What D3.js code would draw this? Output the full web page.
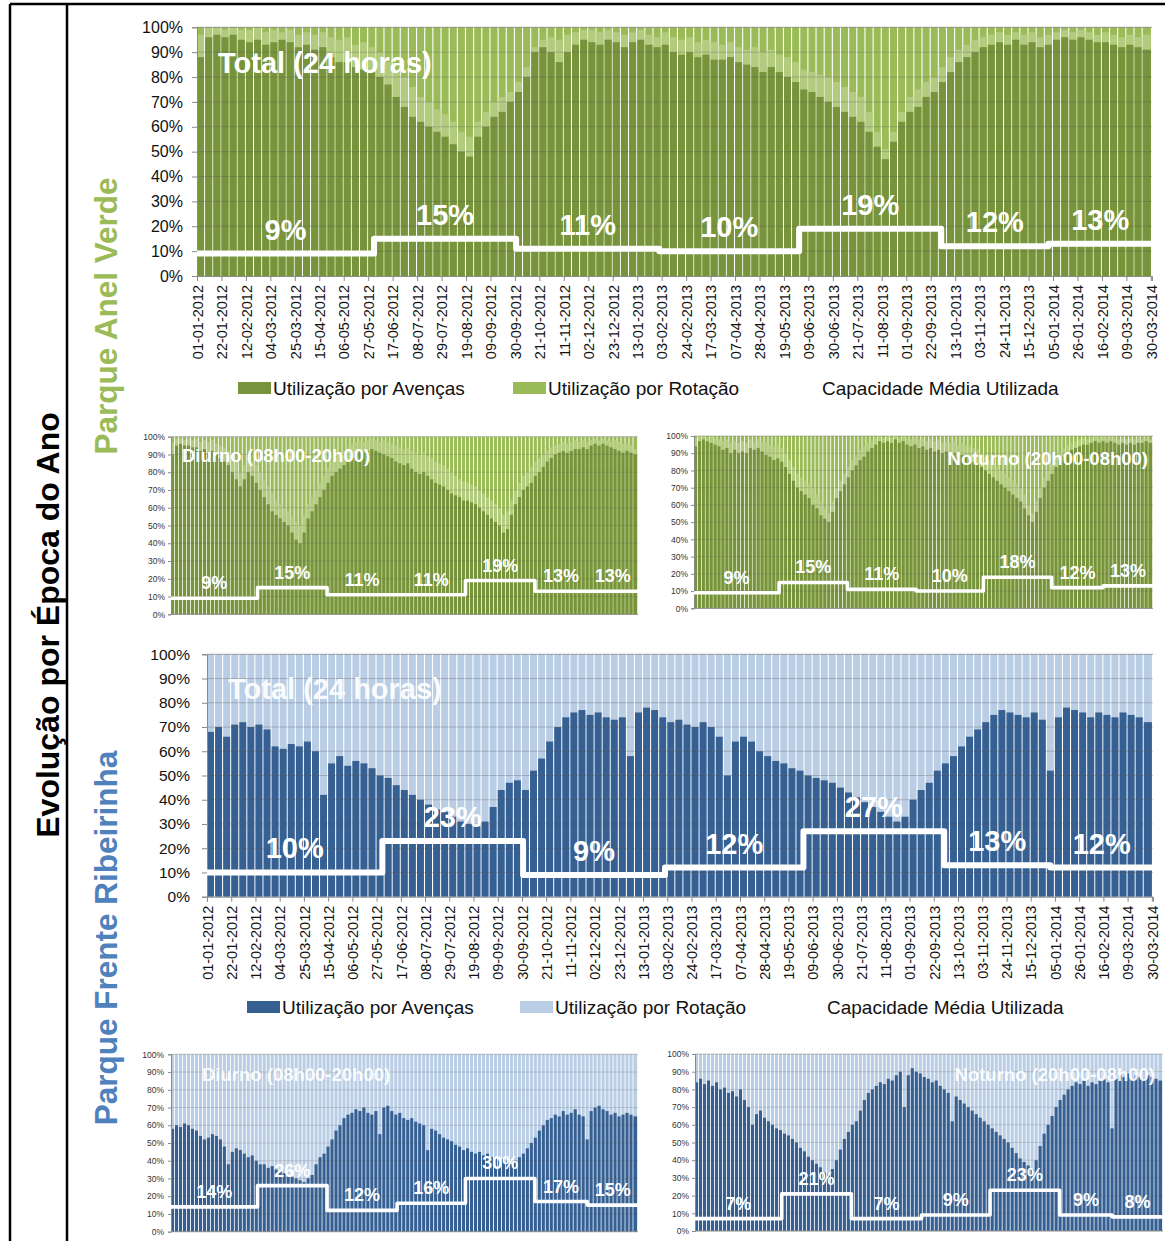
<!DOCTYPE html>
<html><head><meta charset="utf-8">
<script src="https://cdn.jsdelivr.net/npm/d3@7"></script>
<style>
body{margin:0;background:#fff}
svg{display:block}
text{font-family:"Liberation Sans",Arial,Helvetica,sans-serif}
</style>
</head><body>
<svg id="c" width="1165" height="1241"></svg>
<script>
// ---------- DATA ----------
const tickLabels = ["01-01-2012","22-01-2012","12-02-2012","04-03-2012","25-03-2012","15-04-2012","06-05-2012","27-05-2012","17-06-2012","08-07-2012","29-07-2012","19-08-2012","09-09-2012","30-09-2012","21-10-2012","11-11-2012","02-12-2012","23-12-2012","13-01-2013","03-02-2013","24-02-2013","17-03-2013","07-04-2013","28-04-2013","19-05-2013","09-06-2013","30-06-2013","21-07-2013","11-08-2013","01-09-2013","22-09-2013","13-10-2013","03-11-2013","24-11-2013","15-12-2013","05-01-2014","26-01-2014","16-02-2014","09-03-2014","30-03-2014"];
const periodBounds = ["01-01-2012","01-06-2012","01-10-2012","01-02-2013","01-06-2013","01-10-2013","01-01-2014","31-03-2014"];
const yTicks = [0,10,20,30,40,50,60,70,80,90,100];

// Parque Anel Verde - weekly values, %: lower edge of the rotação band and avenças
const verdeTotalOcup = [97,100,100,99,100,99,99,100,98,99, 98,99,97,98,97,98,96,95,96,93, 94,92,90,86,82,80,76,72,70,67, 65,62,58,56,62,66,70,72,74,78, 84,92,95,96,95,97,98,99,99,98, 99,98,97,98,99,97,96,98,96,95, 96,94,95,94,93,94,92,91,92,90, 91,89,88,86,83,82,81,80,78,76, 74,72,66,58,51,58,66,72,75,78, 80,84,88,91,93,95,96,97,98,97, 98,97,98,96,97,98,99,98,99,98, 97,98,97,96,97,96,97];
const verdeTotalAv   = [88,96,97,96,97,95,94,95,93,94, 95,94,92,93,91,92,88,86,86,84, 83,82,80,77,72,68,64,62,60,58, 56,53,50,48,56,60,64,66,70,74, 80,90,92,90,86,90,93,95,94,93, 95,94,92,94,95,93,92,93,90,89, 90,88,89,87,87,88,86,85,84,82, 84,82,80,78,75,74,72,70,68,66, 64,62,58,52,47,54,62,66,68,72, 74,78,82,86,88,90,92,93,94,93, 95,93,94,92,93,95,96,95,96,95, 94,94,93,92,93,92,91];
const verdeDiurnoOcup = [97,99,99,98,99,98,99,97,98,97, 98,96,95,94,92,90,86,80,84,88, 86,84,80,76,72,68,64,62,60,58, 55,52,50,56,62,66,70,74,78,82, 86,88,90,92,94,96,97,98,97,98, 99,98,97,98,97,96,95,94,93,94, 92,91,90,91,89,88,86,85,84,82, 80,78,76,75,74,73,72,70,68,66, 64,62,60,56,58,64,70,74,78,80, 83,86,88,90,92,94,95,96,97,96, 97,98,97,98,97,98,99,98,99,98, 97,98,97,96,96,95,93];
const verdeDiurnoAv   = [90,95,96,95,95,94,94,92,93,91, 92,90,88,86,84,80,76,72,76,80, 78,74,70,66,62,58,56,54,52,50, 46,42,40,46,54,58,62,66,70,74, 78,80,82,84,86,88,90,92,91,92, 93,92,91,90,89,88,86,85,84,85, 82,80,79,80,78,76,74,73,72,70, 68,67,66,64,64,63,62,60,58,56, 54,52,50,46,48,56,62,66,70,72, 74,78,80,83,86,88,90,91,92,91, 92,93,93,94,93,95,96,95,96,95, 94,93,92,91,92,91,90];
const verdeNoturnoOcup = [99,100,100,99,100,99,98,97,98,96, 97,96,97,96,98,97,98,97,96,95, 94,95,93,90,86,82,78,76,74,72, 70,66,62,58,55,62,70,74,78,82, 86,88,92,94,96,97,99,100,99,100, 99,100,99,100,99,98,99,98,99,97, 98,97,98,96,97,96,97,95,96,95, 94,93,92,90,88,86,84,82,80,78, 76,74,72,70,66,60,55,62,70,76, 80,84,88,91,93,95,96,97,98,99, 98,99,100,99,100,99,100,99,98,99, 98,99,98,99,98,99,98];
const verdeNoturnoAv   = [94,97,98,97,96,95,94,92,93,90, 92,90,91,90,93,92,93,91,89,88, 86,87,85,82,78,74,70,68,66,64, 60,58,54,52,50,56,64,68,72,76, 80,83,86,88,91,93,95,97,96,97, 96,98,96,97,95,94,95,93,94,92, 93,91,92,90,91,89,90,88,89,88, 86,85,84,82,80,78,76,74,72,70, 68,66,64,62,58,54,50,56,64,70, 74,78,82,86,88,90,92,93,94,95, 95,96,97,96,97,96,97,96,95,96, 95,96,95,96,96,97,96];

// Parque Frente Ribeirinha - weekly avenças, %
const azulTotalAv   = [68,70,66,71,72,70,71,69,62,61, 63,62,64,60,42,55,58,54,56,55, 53,50,49,46,44,42,40,38,36,35, 33,31,30,29,31,37,44,47,48,44, 52,57,64,70,74,76,77,75,76,74, 73,74,58,76,78,77,74,72,73,71, 70,72,70,66,50,64,66,64,60,58, 56,55,53,52,50,49,48,47,45,43, 41,39,37,35,33,31,33,40,44,47, 52,55,58,62,66,69,72,75,77,76, 75,74,76,73,52,74,78,77,76,74, 76,75,74,76,75,74,72];
const azulDiurnoAv  = [58,60,59,61,60,58,57,54,52,53, 55,54,52,48,38,45,47,46,44,42, 43,40,38,38,36,37,35,34,33,32, 31,30,29,28,30,32,38,42,44,48, 52,57,60,64,66,67,69,68,70,67, 66,68,55,70,71,68,66,67,64,63, 64,62,61,60,46,58,57,55,53,52, 51,49,48,46,47,45,44,45,43,44, 42,41,40,41,40,38,40,42,44,47, 50,53,57,60,63,64,66,65,68,66, 67,69,66,65,52,68,70,71,69,68, 66,67,65,66,67,66,65];
const azulNoturnoAv = [84,86,83,85,82,84,80,81,78,79, 76,80,74,70,60,66,68,64,62,60, 58,57,55,54,52,50,47,45,42,40, 38,36,33,32,35,40,46,52,56,60, 62,68,74,78,80,82,84,83,86,85, 88,90,70,88,92,90,89,87,86,84, 85,82,80,78,62,76,74,72,70,68, 66,64,62,60,58,56,54,52,50,47, 44,41,39,37,35,40,48,55,60,65, 70,74,77,80,82,84,83,85,82,84, 83,85,86,84,58,86,88,87,89,86, 88,87,86,88,87,86,85];

// Capacidade Média Utilizada per period (%)
const verdeTotalMedia   = [9,15,11,10,19,12,13];
const verdeDiurnoMedia  = [9,15,11,11,19,13,13];
const verdeNoturnoMedia = [9,15,11,10,18,12,13];
const azulTotalMedia    = [10,23,9,12,27,13,12];
const azulDiurnoMedia   = [14,26,12,16,30,17,15];
const azulNoturnoMedia  = [7,21,7,9,23,9,8];

const legendLabels = ["Utilização por Avenças","Utilização por Rotação","Capacidade Média Utilizada"];

// ---------- DRAW ----------
const svg = d3.select("#c");
const parse = d3.utcParse("%d-%m-%Y");
const tStart = parse(periodBounds[0]);
const tEnd = parse(periodBounds[periodBounds.length-1]);

const GREEN_D="#77933C", GREEN_L="#9BBB59", GREEN_P="#B3CB7E", BLUE_D="#376092", BLUE_L="#B9CDE5";

const charts = [
 {x0:197,x1:1152,yTop:27.3,yBot:276,mid:verdeTotalOcup,av:verdeTotalAv,media:verdeTotalMedia,dark:GREEN_D,light:GREEN_L,pale:GREEN_P,big:true,
  title:"Total (24 horas)",tx:218,ty:73,anchor:"start",pad:9,yfs:16,xlab:true},
 {x0:171,x1:638,yTop:436.7,yBot:614.3,mid:verdeDiurnoOcup,av:verdeDiurnoAv,media:verdeDiurnoMedia,dark:GREEN_D,light:GREEN_L,pale:GREEN_P,big:false,
  title:"Diurno (08h00-20h00)",tx:182,ty:462,anchor:"start",pad:3,yfs:8.5},
 {x0:694,x1:1153,yTop:436,yBot:608.3,mid:verdeNoturnoOcup,av:verdeNoturnoAv,media:verdeNoturnoMedia,dark:GREEN_D,light:GREEN_L,pale:GREEN_P,big:false,
  title:"Noturno (20h00-08h00)",tx:1148,ty:465,anchor:"end",pad:3,yfs:8.5},
 {x0:207,x1:1153,yTop:654.3,yBot:896.7,mid:null,av:azulTotalAv,media:azulTotalMedia,dark:BLUE_D,light:BLUE_L,big:true,
  title:"Total (24 horas)",tx:228,ty:699,anchor:"start",pad:12,yfs:15.5,xlab:true},
 {x0:171,x1:638,yTop:1054.3,yBot:1231.7,mid:null,av:azulDiurnoAv,media:azulDiurnoMedia,dark:BLUE_D,light:BLUE_L,big:false,
  title:"Diurno (08h00-20h00)",tx:202,ty:1081,anchor:"start",pad:4,yfs:8.5},
 {x0:695,x1:1163,yTop:1054,yBot:1231,mid:null,av:azulNoturnoAv,media:azulNoturnoMedia,dark:BLUE_D,light:BLUE_L,big:false,
  title:"Noturno (20h00-08h00)",tx:1155,ty:1081,anchor:"end",pad:3,yfs:8.5}
];

function drawChart(c){
  const g = svg.append("g");
  const x = d3.scaleUtc().domain([tStart,tEnd]).range([c.x0,c.x1]);
  const y = d3.scaleLinear().domain([0,100]).range([c.yBot,c.yTop]);
  const n = c.av.length;
  const weeks = d3.range(n).map(i=>({i, s:d3.utcDay.offset(tStart,7*i), e: i===n-1 ? tEnd : d3.utcDay.offset(tStart,7*i+7)}));
  const gap = c.big ? 1.1 : 0.9;
  const bw = d => Math.max(0.3, x(d.e)-x(d.s)-gap);

  // rotação band up to 100%
  g.selectAll("rect.l").data(weeks).join("rect").attr("class","l")
    .attr("x",d=>x(d.s)).attr("width",bw)
    .attr("y",y(100)).attr("height",y(0)-y(100))
    .attr("fill",c.light);
  // paler mixed band (daily spread of avenças within each week)
  if (c.mid){
    g.selectAll("rect.p").data(weeks).join("rect").attr("class","p")
      .attr("x",d=>x(d.s)).attr("width",bw)
      .attr("y",d=>y(c.mid[d.i])).attr("height",d=>y(0)-y(c.mid[d.i]))
      .attr("fill",c.pale);
  }
  // avenças
  g.selectAll("rect.d").data(weeks).join("rect").attr("class","d")
    .attr("x",d=>x(d.s)).attr("width",bw)
    .attr("y",d=>y(c.av[d.i])).attr("height",d=>y(0)-y(c.av[d.i]))
    .attr("fill",c.dark);

  // gridlines
  g.selectAll("line.grid").data(yTicks.filter(v=>v>0)).join("line").attr("class","grid")
    .attr("x1",c.x0).attr("x2",c.x1).attr("y1",d=>y(d)).attr("y2",d=>y(d))
    .attr("stroke", "#555").attr("stroke-opacity", v=> v===100?0.5:0.3).attr("stroke-width", c.big?1:0.7);

  // y axis
  const ya = g.append("g").attr("transform",`translate(${c.x0},0)`)
    .call(d3.axisLeft(y).tickValues(yTicks).tickFormat(d=>d+"%").tickSize(c.big?5:3).tickPadding(c.pad));
  ya.select(".domain").attr("stroke","#8a8a8a");
  ya.selectAll(".tick line").attr("stroke","#8a8a8a");
  ya.selectAll("text").attr("font-size",c.yfs).attr("fill", c.big?"#111":"#333")
    .style("font-family","Liberation Sans, Arial, sans-serif");

  // x axis
  if (c.xlab){
    const xa = g.append("g").attr("transform",`translate(0,${c.yBot})`)
      .call(d3.axisBottom(x).tickValues(tickLabels.map(parse)).tickFormat((d,i)=>tickLabels[i]).tickSize(5).tickPadding(3));
    xa.select(".domain").attr("stroke","#8a8a8a");
    xa.selectAll(".tick line").attr("stroke","#8a8a8a");
    xa.selectAll("text").attr("font-size",14.5).attr("fill","#111")
      .style("font-family","Liberation Sans, Arial, sans-serif")
      .attr("transform","rotate(-90)").attr("text-anchor","end")
      .attr("x",-9).attr("y",0).attr("dy","0.36em");
  } else {
    g.append("line").attr("x1",c.x0).attr("x2",c.x1).attr("y1",c.yBot).attr("y2",c.yBot)
      .attr("stroke","#8a8a8a").attr("stroke-width",1);
  }

  // step line (Capacidade Média Utilizada)
  const pts = c.media.map((v,k)=>[parse(periodBounds[k]),v]);
  pts.push([tEnd, c.media[c.media.length-1]]);
  g.append("path").attr("d", d3.line().x(d=>x(d[0])).y(d=>y(d[1])).curve(d3.curveStepAfter)(pts))
    .attr("fill","none").attr("stroke","#fff").attr("stroke-width",c.big?6:3.6)
    .attr("stroke-linejoin","round");

  // period labels
  c.media.forEach((v,k)=>{
    const a = parse(periodBounds[k]), b = parse(periodBounds[k+1]);
    const mid = new Date((+a + +b)/2);
    g.append("text").attr("x",x(mid)).attr("y",y(v)-(c.big?14:9))
      .attr("text-anchor","middle").attr("font-weight","bold")
      .attr("font-size",c.big?29:18).attr("fill","#fff").text(v+"%");
  });

  // chart title
  g.append("text").attr("x",c.tx).attr("y",c.ty).attr("text-anchor",c.anchor)
    .attr("font-weight","bold").attr("font-size",c.big?29:18.5).attr("fill","#fff")
    .attr("fill-opacity", c.mid? 1 : 0.92).text(c.title);
}
charts.forEach(drawChart);

// legends
function legend(y, dark, light, xs){
  const g = svg.append("g");
  g.append("rect").attr("x",xs[0]).attr("y",y-6).attr("width",33).attr("height",12).attr("fill",dark);
  g.append("text").attr("x",xs[0]+35).attr("y",y+7).attr("font-size",19).attr("fill","#111").text(legendLabels[0]);
  g.append("rect").attr("x",xs[1]).attr("y",y-6).attr("width",33).attr("height",12).attr("fill",light);
  g.append("text").attr("x",xs[1]+35).attr("y",y+7).attr("font-size",19).attr("fill","#111").text(legendLabels[1]);
  g.append("line").attr("x1",xs[2]-36).attr("x2",xs[2]-3).attr("y1",y).attr("y2",y).attr("stroke","#fff").attr("stroke-width",5);
  g.append("text").attr("x",xs[2]).attr("y",y+7).attr("font-size",19).attr("fill","#111").text(legendLabels[2]);
}
legend(388, GREEN_D, GREEN_L, [238,513,822]);
legend(1007, BLUE_D, BLUE_L, [247,520,827]);

// frame
const frame = svg.append("g").attr("stroke","#000").attr("stroke-width",2.5);
frame.append("line").attr("x1",10).attr("x2",1165).attr("y1",4).attr("y2",4);
frame.append("line").attr("x1",10).attr("x2",10).attr("y1",4).attr("y2",1241);
frame.append("line").attr("x1",67).attr("x2",67).attr("y1",4).attr("y2",1241);

// vertical titles
function vtext(cx, cy, txt, size, color){
  svg.append("text").attr("transform",`translate(${cx},${cy}) rotate(-90)`)
    .attr("text-anchor","middle").attr("dy","0.35em")
    .attr("font-weight","bold").attr("font-size",size).attr("fill",color).text(txt);
}
vtext(48, 625, "Evolução por Época do Ano", 32, "#000");
vtext(106, 316, "Parque Anel Verde", 31.5, GREEN_L);
vtext(106, 938, "Parque Frente Ribeirinha", 31.5, "#4F81BD");
</script>
</body></html>
